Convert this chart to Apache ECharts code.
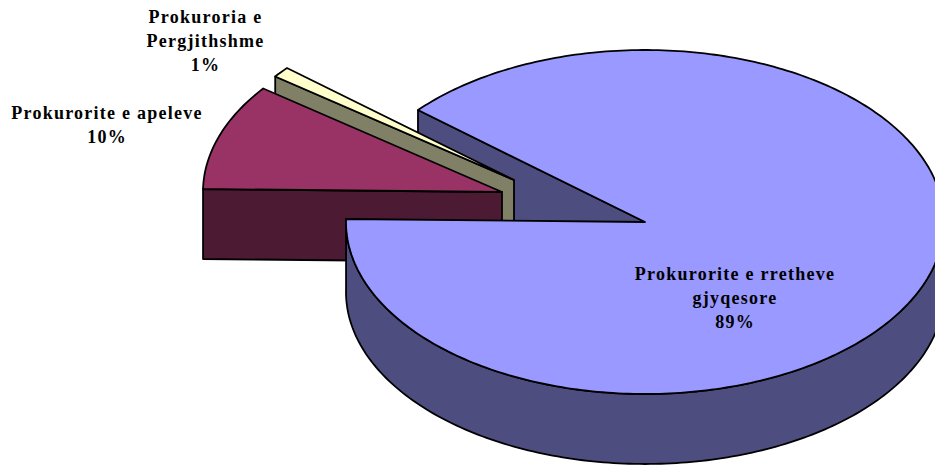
<!DOCTYPE html>
<html><head><meta charset="utf-8">
<style>
html,body{margin:0;padding:0;background:#fff}
#c{width:935px;height:465px}
#c text{letter-spacing:1.25px}
</style>
<script src="https://cdn.jsdelivr.net/npm/echarts@6/dist/echarts.min.js"></script>
</head><body><div id="c"></div>
<script>
const categories = ['Prokurorite e apeleve', 'Prokuroria e\nPergjithshme', 'Prokurorite e rretheve\ngjyqesore'];
const values = [10, 1, 89];

const topColors = ['#993366', '#ffffcc', '#9999ff'];
const wallColors = ['#4d1a33', '#808066', '#4d4d80'];
const offsets = [[-143, -30], [-131, -42], [0, 0]];
const labelAt = [[107, 124.5], [205.5, 41], [735, 297.5]];
const stack = [3, 2, 4];
const cx = 645, cy = 222, rx = 299, ry = 172, depth = 70, startDeg = 181;

const total = values.reduce((a, b) => a + b, 0);
const rad = d => d * Math.PI / 180;

function renderItem(params, api) {
  const i = params.dataIndex;
  let before = 0;
  for (let k = 0; k < i; k++) before += values[k];
  const a0 = startDeg + before / total * 360;
  const a1 = a0 + api.value(0) / total * 360;
  const ox = cx + offsets[i][0], oy = cy + offsets[i][1];
  const pt = (a, dz) => [ox + rx * Math.cos(rad(a)), oy + ry * Math.sin(rad(a)) + (dz || 0)];
  const arc = (s, e, dz) => {
    const out = [], n = Math.max(2, Math.ceil(Math.abs(e - s)));
    for (let k = 0; k <= n; k++) out.push(pt(s + (e - s) * k / n, dz));
    return out;
  };
  const apex = [ox, oy];
  const apexLow = [ox, oy + depth];
  const line = { stroke: '#000', lineWidth: 1.8, lineJoin: 'round' };
  const poly = (points, fill, z2) => ({
    type: 'polygon', z2, shape: { points }, style: Object.assign({ fill }, line)
  });
  const wall = wallColors[i], z = stack[i] * 10;
  const children = [];
  const low = p => [p[0], p[1] + depth];
  const pA0 = pt(a0), pA1 = pt(a1);
  if (i === 2) {
    // back cut face sits behind the exploded slices
    children.push(poly([apex, pA0, low(pA0), apexLow], wall, 5));
    // rounded outer wall: visible from the right through the front to the left
    children.push(poly(arc(360, a1, 0).concat(arc(a1, 360, depth)), wall, z));
  } else {
    // near cut face
    children.push(poly([pA0, apex, apexLow, low(pA0)], wall, z));
  }
  children.push(poly([apex].concat(arc(a0, a1)), topColors[i], z + 1));
  children.push({
    type: 'text', z2: 100,
    style: {
      x: labelAt[i][0], y: labelAt[i][1],
      text: categories[i] + '\n' + Math.round(api.value(0) / total * 100) + '%',
      align: 'center', verticalAlign: 'middle',
      font: 'bold 18px "Liberation Serif"', lineHeight: 24, fill: '#000'
    }
  });
  return { type: 'group', children };
}

const chart = echarts.init(document.getElementById('c'), null, { renderer: 'svg' });
chart.setOption({
  animation: false,
  backgroundColor: '#fff',
  series: [{
    type: 'custom',
    coordinateSystem: 'none',
    renderItem,
    silent: true,
    data: values.map(v => [v])
  }]
});
</script></body></html>
